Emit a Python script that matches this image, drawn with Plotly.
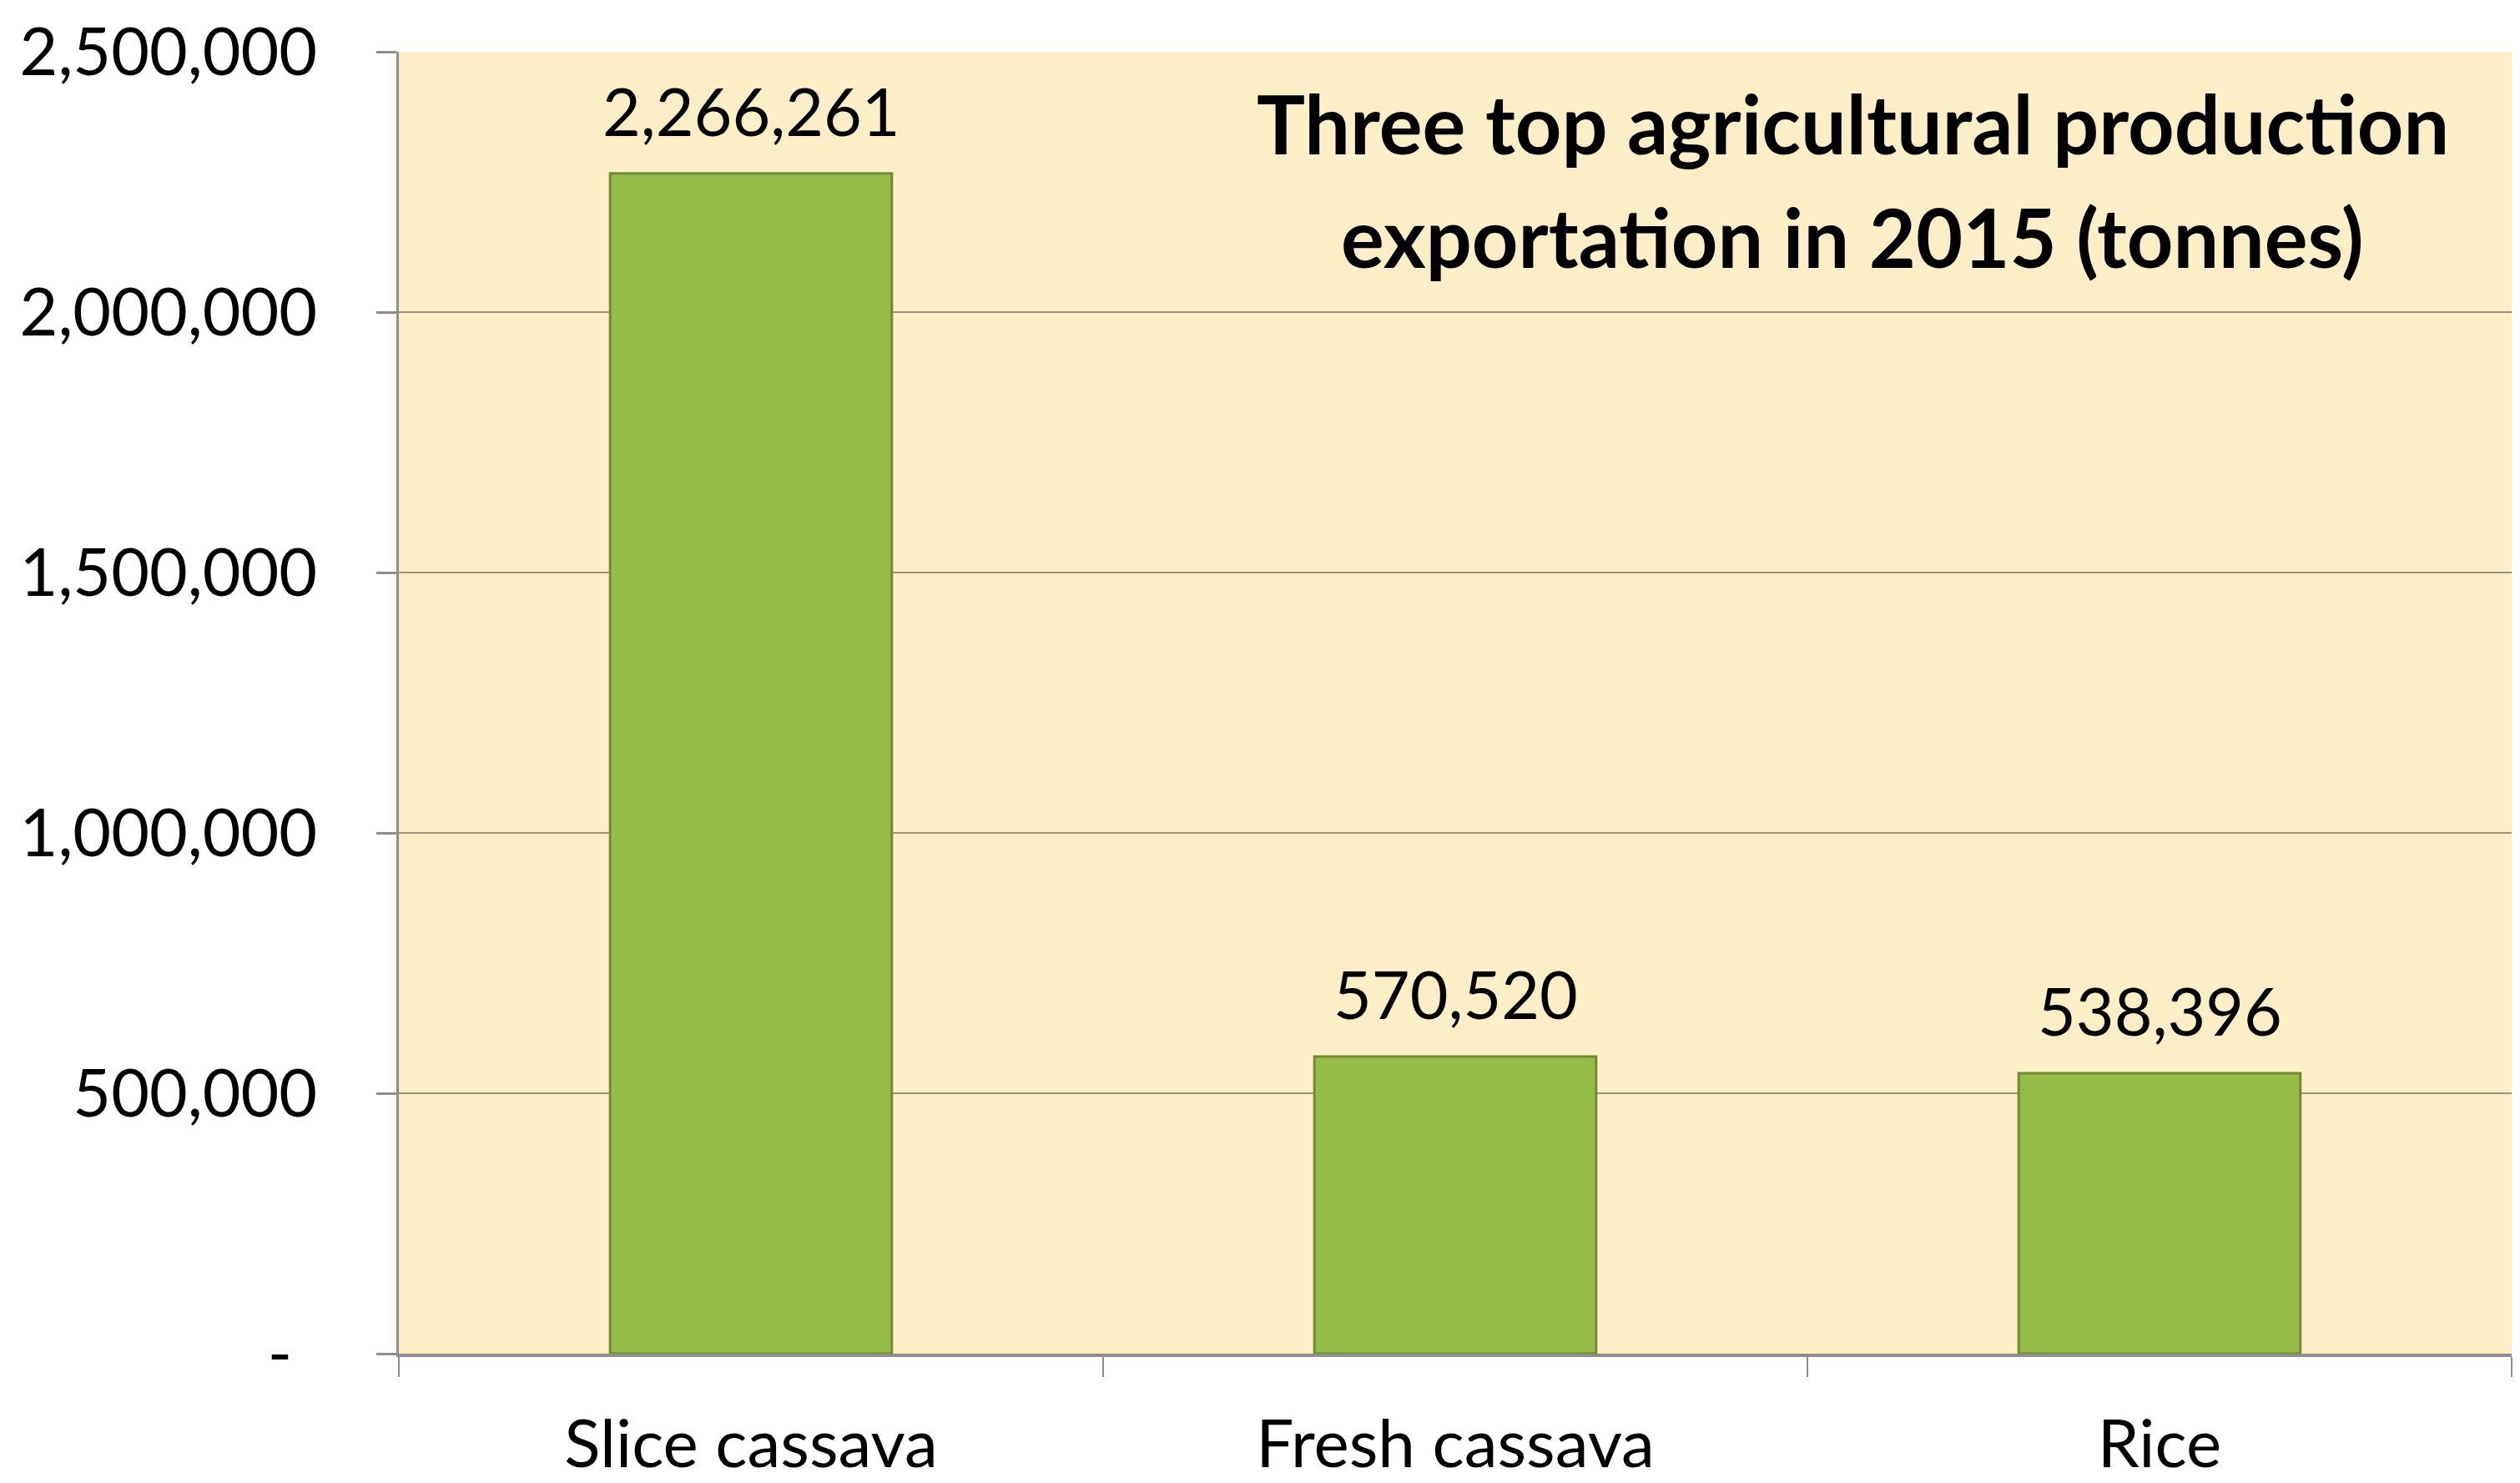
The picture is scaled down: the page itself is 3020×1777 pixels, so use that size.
import plotly.graph_objects as go

categories = ["Slice cassava", "Fresh cassava", "Rice"]
values = [2266261, 570520, 538396]
value_labels = ["2,266,261", "570,520", "538,396"]
y_tickvals = [0, 500000, 1000000, 1500000, 2000000, 2500000]
y_ticktext = ["-\u00a0\u2009", "500,000", "1,000,000", "1,500,000", "2,000,000", "2,500,000"]
title_lines = ["Three top agricultural production", "exportation in 2015 (tonnes)"]

FONT = "Lato, 'Open Sans', sans-serif"

fig = go.Figure()
fig.add_trace(go.Bar(
    x=categories,
    y=values,
    width=0.4,
    marker=dict(color="#96BC48", line=dict(color="#6F8C32", width=3)),
    showlegend=False,
    hoverinfo="skip",
))

for c, v, t in zip(categories, values, value_labels):
    fig.add_annotation(
        x=c, y=v, text=t, showarrow=False,
        xref="x", yref="y", yanchor="bottom", yshift=26,
        font=dict(family=FONT, size=79, color="#000000"),
    )

fig.add_annotation(
    x=0.688, y=0.945, xref="paper", yref="paper", text="<b>" + title_lines[0] + "</b>",
    showarrow=False, xanchor="center", yanchor="middle",
    font=dict(family=FONT, size=97, color="#000000"),
)
fig.add_annotation(
    x=0.688, y=0.858, xref="paper", yref="paper", text="<b>" + title_lines[1] + "</b>",
    showarrow=False, xanchor="center", yanchor="middle",
    font=dict(family=FONT, size=97, color="#000000"),
)

fig.update_layout(
    width=3020, height=1777,
    margin=dict(l=470, r=18, t=54, b=163, autoexpand=False),
    paper_bgcolor="#FFFFFF",
    plot_bgcolor="#FCEEC6",
    bargap=0.6,
    font=dict(family=FONT, color="#000000"),
)
fig.update_xaxes(
    type="category",
    range=[-0.5, 2.5],
    automargin=False,
    showline=True, linecolor="#8E8E8E", linewidth=4,
    ticks="outside", tickson="boundaries", ticklen=24, tickwidth=2, tickcolor="#8E8E8E",
    ticklabelstandoff=36,
    tickfont=dict(family=FONT, size=80, color="#000000"),
    showgrid=False,
)
fig.update_yaxes(
    range=[0, 2500000],
    automargin=False,
    tickvals=y_tickvals, ticktext=y_ticktext,
    showline=True, linecolor="#8E8E8E", linewidth=3,
    ticks="outside", ticklen=24, tickwidth=3, tickcolor="#8E8E8E",
    ticklabelstandoff=55,
    tickfont=dict(family=FONT, size=79, color="#000000"),
    showgrid=True, gridcolor="#9C9478", gridwidth=2,
    zeroline=False,
)

fig.write_html("out.html")
